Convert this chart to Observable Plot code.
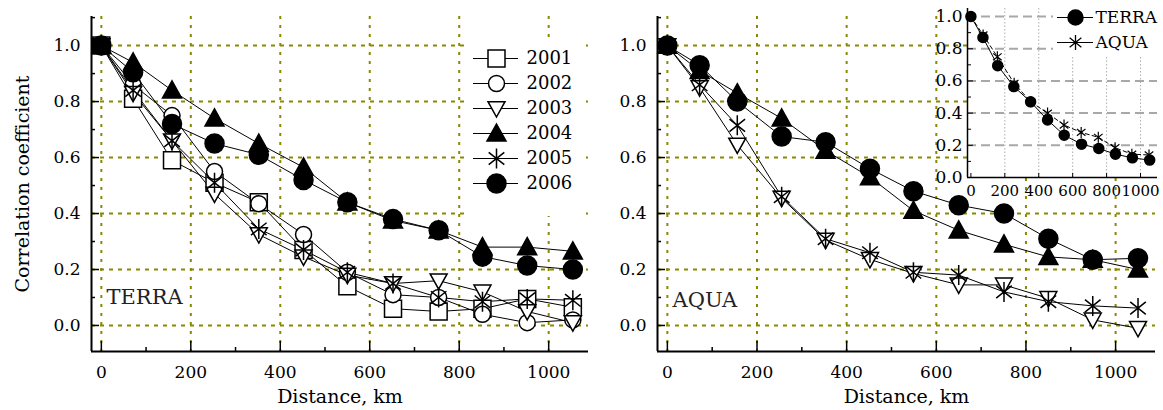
<!DOCTYPE html>
<html><head><meta charset="utf-8">
<script src="https://cdn.jsdelivr.net/npm/d3@7"></script>
<script src="https://cdn.jsdelivr.net/npm/@observablehq/plot@0.6"></script>
<style>
html,body{margin:0;padding:0;background:#fff;}
#root{position:relative;width:1163px;height:410px;overflow:hidden;font-family:"DejaVu Serif",serif;}
#root svg{position:absolute;}
</style></head><body><div id="root"></div>
<script>
// ---------- data ----------
const distanceTerra = [0, 71, 158, 253, 352, 452, 550, 652, 754, 852, 952, 1054];
const distanceAqua  = [0, 72, 156, 255, 353, 452, 549, 650, 751, 850, 949, 1050];
const yearsTerra = ["2001", "2002", "2003", "2004", "2005", "2006"];
const yearsAqua  = ["2003", "2004", "2005", "2006"];

const terra2001 = [1.0, 0.81, 0.59, 0.51, 0.44, 0.27, 0.14, 0.06, 0.05, 0.06, 0.095, 0.065];
const terra2002 = [1.0, 0.86, 0.75, 0.55, 0.435, 0.325, 0.19, 0.11, 0.10, 0.04, 0.01, 0.02];
const terra2003 = [1.0, 0.83, 0.66, 0.47, 0.325, 0.245, 0.18, 0.15, 0.16, 0.12, 0.05, 0.01];
const terra2004 = [1.0, 0.94, 0.84, 0.74, 0.65, 0.565, 0.44, 0.375, 0.34, 0.28, 0.28, 0.265];
const terra2005 = [1.0, 0.84, 0.66, 0.51, 0.345, 0.27, 0.19, 0.15, 0.10, 0.085, 0.095, 0.09];
const terra2006 = [1.0, 0.905, 0.72, 0.65, 0.61, 0.52, 0.44, 0.38, 0.34, 0.246, 0.214, 0.20];

const aqua2003 = [1.0, 0.85, 0.645, 0.455, 0.305, 0.236, 0.186, 0.145, 0.145, 0.097, 0.02, -0.01];
const aqua2004 = [1.0, 0.91, 0.83, 0.74, 0.625, 0.53, 0.41, 0.34, 0.29, 0.245, 0.235, 0.20];
const aqua2005 = [1.0, 0.86, 0.715, 0.46, 0.31, 0.26, 0.19, 0.18, 0.12, 0.085, 0.07, 0.062];
const aqua2006 = [1.0, 0.93, 0.80, 0.675, 0.655, 0.56, 0.48, 0.43, 0.40, 0.31, 0.235, 0.24];

const insetNames = ["TERRA", "AQUA"];
const insetTerra = [1.0, 0.87, 0.695, 0.565, 0.47, 0.357, 0.263, 0.207, 0.18, 0.145, 0.122, 0.108];
const insetAqua  = [1.0, 0.886, 0.75, 0.585, 0.47, 0.40, 0.326, 0.28, 0.25, 0.185, 0.145, 0.14];

const xTicks = [0, 200, 400, 600, 800, 1000];
const xMinor = [100, 300, 500, 700, 900];
const yTicks = [0, 0.2, 0.4, 0.6, 0.8, 1.0];
const yMinor = [0.1, 0.3, 0.5, 0.7, 0.9, 1.1];
const insetYTicks = [0, 0.2, 0.4, 0.6, 0.8, 1.0];
const insetYMinor = [0.1, 0.3, 0.5, 0.7, 0.9];
const insetXGrid = [200, 400, 600, 800, 1000];
const insetYGrid = [0.2, 0.4, 0.6, 0.8, 1.0];

const terraSeries = {"2001": terra2001, "2002": terra2002, "2003": terra2003, "2004": terra2004, "2005": terra2005, "2006": terra2006};
const aquaSeries = {"2003": aqua2003, "2004": aqua2004, "2005": aqua2005, "2006": aqua2006};

// ---------- symbols & styles ----------
const R = s => Math.sqrt(s / Math.PI);
const symSquare = {draw(c, s) { const r = R(s); c.rect(-r, -r, 2 * r, 2 * r); }};
const symCircle = {draw(c, s) { const r = R(s); c.moveTo(r, 0); c.arc(0, 0, r, 0, 2 * Math.PI); }};
const symTriUp = {draw(c, s) { const r = R(s); c.moveTo(0, -r); c.lineTo(r, 0.8 * r); c.lineTo(-r, 0.8 * r); c.closePath(); }};
const symTriDown = {draw(c, s) { const r = R(s); c.moveTo(0, r); c.lineTo(r, -0.8 * r); c.lineTo(-r, -0.8 * r); c.closePath(); }};
const symAster = {draw(c, s) { const r = R(s); const a = 0.78 * r, b = 0.62 * r;
  c.moveTo(0, -r); c.lineTo(0, r); c.moveTo(-a, -b); c.lineTo(a, b); c.moveTo(-a, b); c.lineTo(a, -b); }};

const styles = {
  "2001": {symbol: symSquare, fill: "white", r: 8.5},
  "2002": {symbol: symCircle, fill: "white", r: 8},
  "2003": {symbol: symTriDown, fill: "white", r: 8.5},
  "2004": {symbol: symTriUp, fill: "black", r: 9.5},
  "2005": {symbol: symAster, fill: "none", r: 10},
  "2006": {symbol: symCircle, fill: "black", r: 9.5}
};

const olive = "#8a8a00";
const xDomain = [-22, 1089];
const yDomain = [-0.093, 1.104];
const toPts = (dist, vals) => dist.map((d, i) => ({d, v: vals[i]}));
const root = document.getElementById("root");
const baseStyle = {fontFamily: "DejaVu Serif", fontSize: "17px", color: "black", background: "transparent", overflow: "visible"};

function place(svg, left, top, bg) {
  svg.style.left = left + "px";
  svg.style.top = top + "px";
  if (bg) svg.style.background = bg;
  root.appendChild(svg);
}

function mainPanel({width, marginLeft, marginRight, dist, series, years, name, nameDx, nameDy, yTitle}) {
  const height = 410, marginTop = 16, marginBottom = 59;
  const plotW = width - marginLeft - marginRight, plotH = height - marginTop - marginBottom;
  const marks = [
    Plot.ruleX(xTicks, {stroke: olive, strokeWidth: 2, strokeDasharray: "3,6"}),
    Plot.ruleY(yTicks, {stroke: olive, strokeWidth: 2, strokeDasharray: "4,5"})
  ];
  years.forEach(y => marks.push(Plot.line(toPts(dist, series[y]), {x: "d", y: "v", stroke: "black", strokeWidth: 1})));
  years.forEach(y => {
    const st = styles[y];
    marks.push(Plot.dot(toPts(dist, series[y]), {x: "d", y: "v", symbol: st.symbol, r: st.r, fill: st.fill, stroke: "black", strokeWidth: 1.5}));
  });
  marks.push(
    Plot.ruleX([xDomain[0]], {stroke: "black", strokeWidth: 2}),
    Plot.ruleY([yDomain[0]], {stroke: "black", strokeWidth: 2}),
    Plot.ruleX(xTicks, {insetTop: plotH - 10, stroke: "black", strokeWidth: 1.5}),
    Plot.ruleX(xMinor, {insetTop: plotH - 4, stroke: "black", strokeWidth: 1.5}),
    Plot.ruleY(yTicks, {insetRight: plotW - 8, stroke: "black", strokeWidth: 1.5}),
    Plot.ruleY(yMinor, {insetRight: plotW - 4, stroke: "black", strokeWidth: 1.5}),
    Plot.axisX(xTicks, {tickSize: 0, tickPadding: 14, tickFormat: d => String(d), label: null}),
    Plot.axisY(yTicks, {tickSize: 0, tickPadding: 11, tickFormat: d3.format(".1f"), label: null}),
    Plot.text(["Distance, km"], {text: d => d, frameAnchor: "bottom", dy: 51, fontSize: 19}),
    Plot.text([name], {text: d => d, frameAnchor: "bottom-left", textAnchor: "start", dx: nameDx, dy: nameDy, fontSize: 21, fill: "#222"})
  );
  if (yTitle) marks.push(Plot.text([yTitle], {text: d => d, frameAnchor: "left", textAnchor: "middle", dx: -69, rotate: -90, fontSize: 19}));
  return Plot.plot({
    width, height, marginLeft, marginRight, marginTop, marginBottom,
    x: {domain: xDomain, label: null},
    y: {domain: yDomain, label: null},
    style: baseStyle,
    marks
  });
}

// left panel (TERRA)
place(mainPanel({width: 600, marginLeft: 91, marginRight: 12, dist: distanceTerra, series: terraSeries, years: yearsTerra,
  name: "TERRA", nameDx: 15, nameDy: -48, yTitle: "Correlation coefficient"}), 0, 0);

// right panel (AQUA)
place(mainPanel({width: 597, marginLeft: 91, marginRight: 8, dist: distanceAqua, series: aquaSeries, years: yearsAqua,
  name: "AQUA", nameDx: 15, nameDy: -45}), 566, 0);

// left legend
const legend = Plot.plot({
  width: 118, height: 176, marginTop: 16.5, marginBottom: 32, marginLeft: 0, marginRight: 0,
  y: {type: "point", domain: yearsTerra, padding: 0, axis: null},
  style: {...baseStyle, fontSize: "18px", background: "white"},
  marks: [
    Plot.ruleY(yearsTerra, {y: d => d, insetLeft: 6, insetRight: 67, stroke: "black", strokeWidth: 1}),
    ...yearsTerra.map(yr => Plot.dot([yr], {y: d => d, frameAnchor: "left", dx: 29, symbol: styles[yr].symbol, r: styles[yr].r, fill: styles[yr].fill, stroke: "black", strokeWidth: 1.5})),
    Plot.text(yearsTerra, {y: d => d, text: d => d, frameAnchor: "left", textAnchor: "start", dx: 59, fontSize: 18})
  ]
});
place(legend, 467, 40, "white");

// inset
const inset = Plot.plot({
  width: 263, height: 205, marginLeft: 67, marginRight: 6, marginTop: 8, marginBottom: 28,
  x: {domain: [-20, 1100], label: null}, y: {domain: [0, 1.05], label: null},
  style: baseStyle,
  marks: [
    Plot.frame({fill: "white", stroke: "none"}),
    Plot.ruleX(insetXGrid, {stroke: "#999", strokeWidth: 0.8, strokeDasharray: "1.5,2"}),
    Plot.ruleY(insetYGrid, {stroke: "#a8a8a8", strokeWidth: 2, strokeDasharray: "9,5"}),
    Plot.line(toPts(distanceTerra, insetTerra), {x: "d", y: "v", stroke: "black", strokeWidth: 1}),
    Plot.line(toPts(distanceAqua, insetAqua), {x: "d", y: "v", stroke: "black", strokeWidth: 1, strokeDasharray: "4,3"}),
    Plot.dot(toPts(distanceAqua, insetAqua), {x: "d", y: "v", symbol: symAster, r: 5.5, fill: "none", stroke: "black", strokeWidth: 1.2}),
    Plot.dot(toPts(distanceTerra, insetTerra), {x: "d", y: "v", symbol: symCircle, r: 5, fill: "black", stroke: "black"}),
    Plot.ruleX([-20], {stroke: "black", strokeWidth: 1.5}),
    Plot.ruleY([0], {stroke: "black", strokeWidth: 1.5}),
    Plot.ruleY(insetYTicks, {insetRight: 184, stroke: "black", strokeWidth: 1}),
    Plot.ruleY(insetYMinor, {insetRight: 186, stroke: "black", strokeWidth: 1}),
    Plot.ruleX(xTicks, {insetTop: 165, stroke: "black", strokeWidth: 1}),
    Plot.axisX(xTicks, {tickSize: 0, tickPadding: 8, tickFormat: d => String(d), label: null, fontSize: 15}),
    Plot.axisY(insetYTicks, {tickSize: 0, tickPadding: 5, tickFormat: d3.format(".1f"), label: null})
  ]
});
place(inset, 900, 0);

// inset legend
const insetLegend = Plot.plot({
  width: 110, height: 52, marginTop: 14, marginBottom: 13, marginLeft: 0, marginRight: 0,
  y: {type: "point", domain: insetNames, padding: 0, axis: null},
  style: {...baseStyle, background: "white"},
  marks: [
    Plot.ruleY(insetNames, {y: d => d, insetLeft: 4, insetRight: 70, stroke: "black", strokeWidth: 1}),
    Plot.dot(["TERRA"], {y: d => d, frameAnchor: "left", dx: 22, symbol: symCircle, r: 7.5, fill: "black", stroke: "black"}),
    Plot.dot(["AQUA"], {y: d => d, frameAnchor: "left", dx: 22, symbol: symAster, r: 7.5, fill: "none", stroke: "black", strokeWidth: 1.3}),
    Plot.text(insetNames, {y: d => d, text: d => d, frameAnchor: "left", textAnchor: "start", dx: 42, fontSize: 17})
  ]
});
place(insetLegend, 1053, 3, "white");
</script>
</body></html>
